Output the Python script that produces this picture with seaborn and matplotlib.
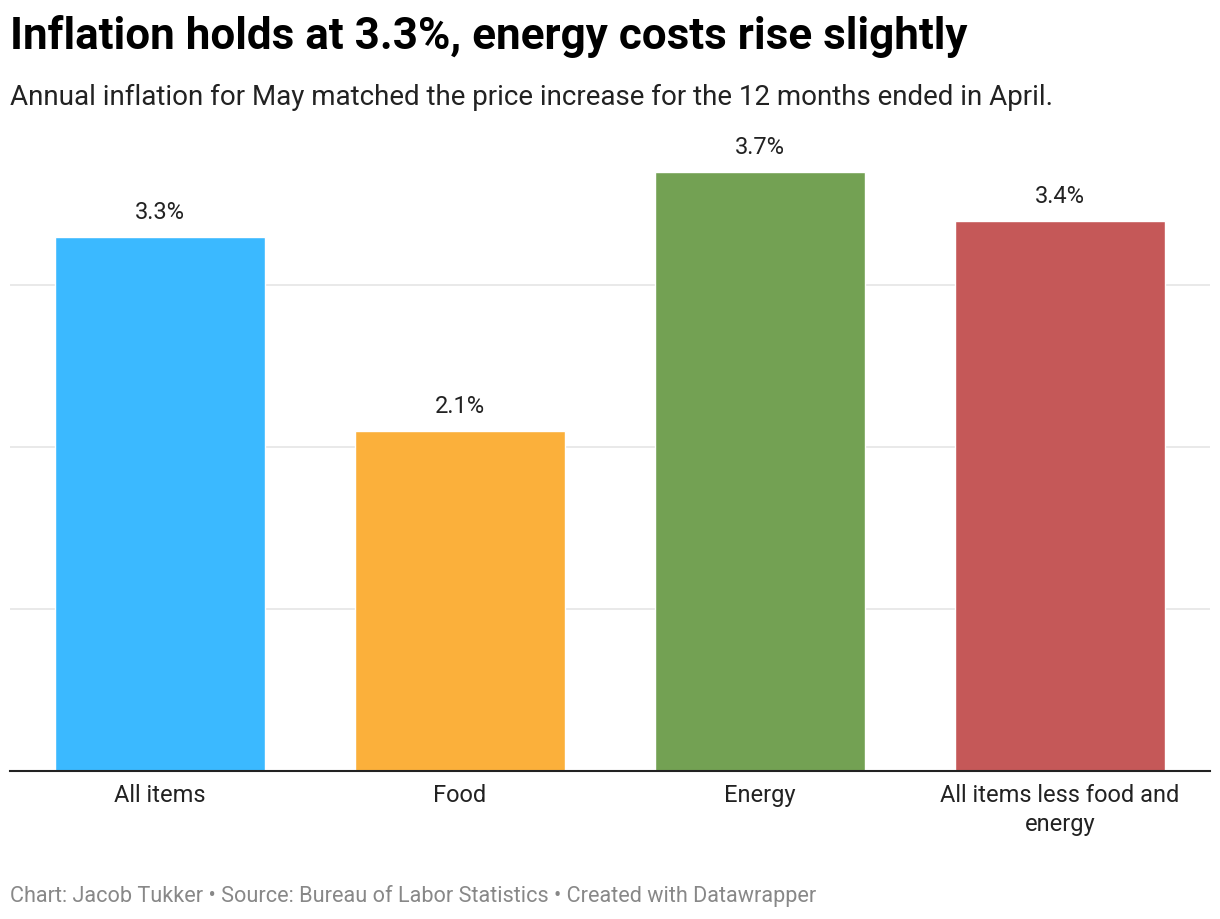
import pandas as pd
import numpy as np
import matplotlib.pyplot as plt
import seaborn as sns

categories = ["All items", "Food", "Energy", "All items less food and\nenergy"]
values = [3.3, 2.1, 3.7, 3.4]
colors = ["#3BB9FF", "#FBB03B", "#73A153", "#C55858"]
labels = ["3.3%", "2.1%", "3.7%", "3.4%"]

sns.set_theme(style="white")
plt.rcParams["font.family"] = ["Roboto", "DejaVu Sans"]

df = pd.DataFrame({"category": categories, "value": values})

fig = plt.figure(figsize=(12.2, 9.2), dpi=100)
ax = fig.add_axes([10 / 1220, 148.5 / 920, 1200 / 1220, (771 - 124) / 920])

sns.barplot(data=df, x="category", y="value", hue="category", palette=colors,
            width=0.7, saturation=1, legend=False, ax=ax, zorder=3)

ax.set_xlim(-0.5, 3.5)
ax.set_ylim(0, 4)
ax.set_yticks([1, 2, 3])
ax.yaxis.grid(True, color="#e5e5e5", linewidth=1.2, zorder=0)
ax.set_yticklabels([])
ax.tick_params(axis="y", length=0)
ax.tick_params(axis="x", length=0, pad=9, labelsize=17, labelcolor="#222222")
for t in ax.get_xticklabels():
    t.set_linespacing(1.35)
ax.set_xlabel("")
ax.set_ylabel("")
for s in ["top", "right", "left"]:
    ax.spines[s].set_visible(False)
ax.spines["bottom"].set_color("#222222")
ax.spines["bottom"].set_linewidth(1.5)
ax.spines["bottom"].set_zorder(5)

for i, (v, lab) in enumerate(zip(values, labels)):
    ax.annotate(lab, (i, v), xytext=(0, 10), textcoords="offset points",
                ha="center", va="bottom", fontsize=17, color="#222222")

fig.text(10 / 1220, 1 - 37 / 920, "Inflation holds at 3.3%, energy costs rise slightly",
         fontsize=31.7, fontweight="bold", color="#000000", va="center", ha="left")
fig.text(10 / 1220, 1 - 97 / 920,
         "Annual inflation for May matched the price increase for the 12 months ended in April.",
         fontsize=20, color="#222222", va="center", ha="left")
fig.text(10 / 1220, 1 - 896 / 920,
         "Chart: Jacob Tukker \u2022 Source: Bureau of Labor Statistics \u2022 Created with Datawrapper",
         fontsize=15.6, color="#888888", va="center", ha="left")

fig.savefig("out.png", dpi=100, facecolor="white")
